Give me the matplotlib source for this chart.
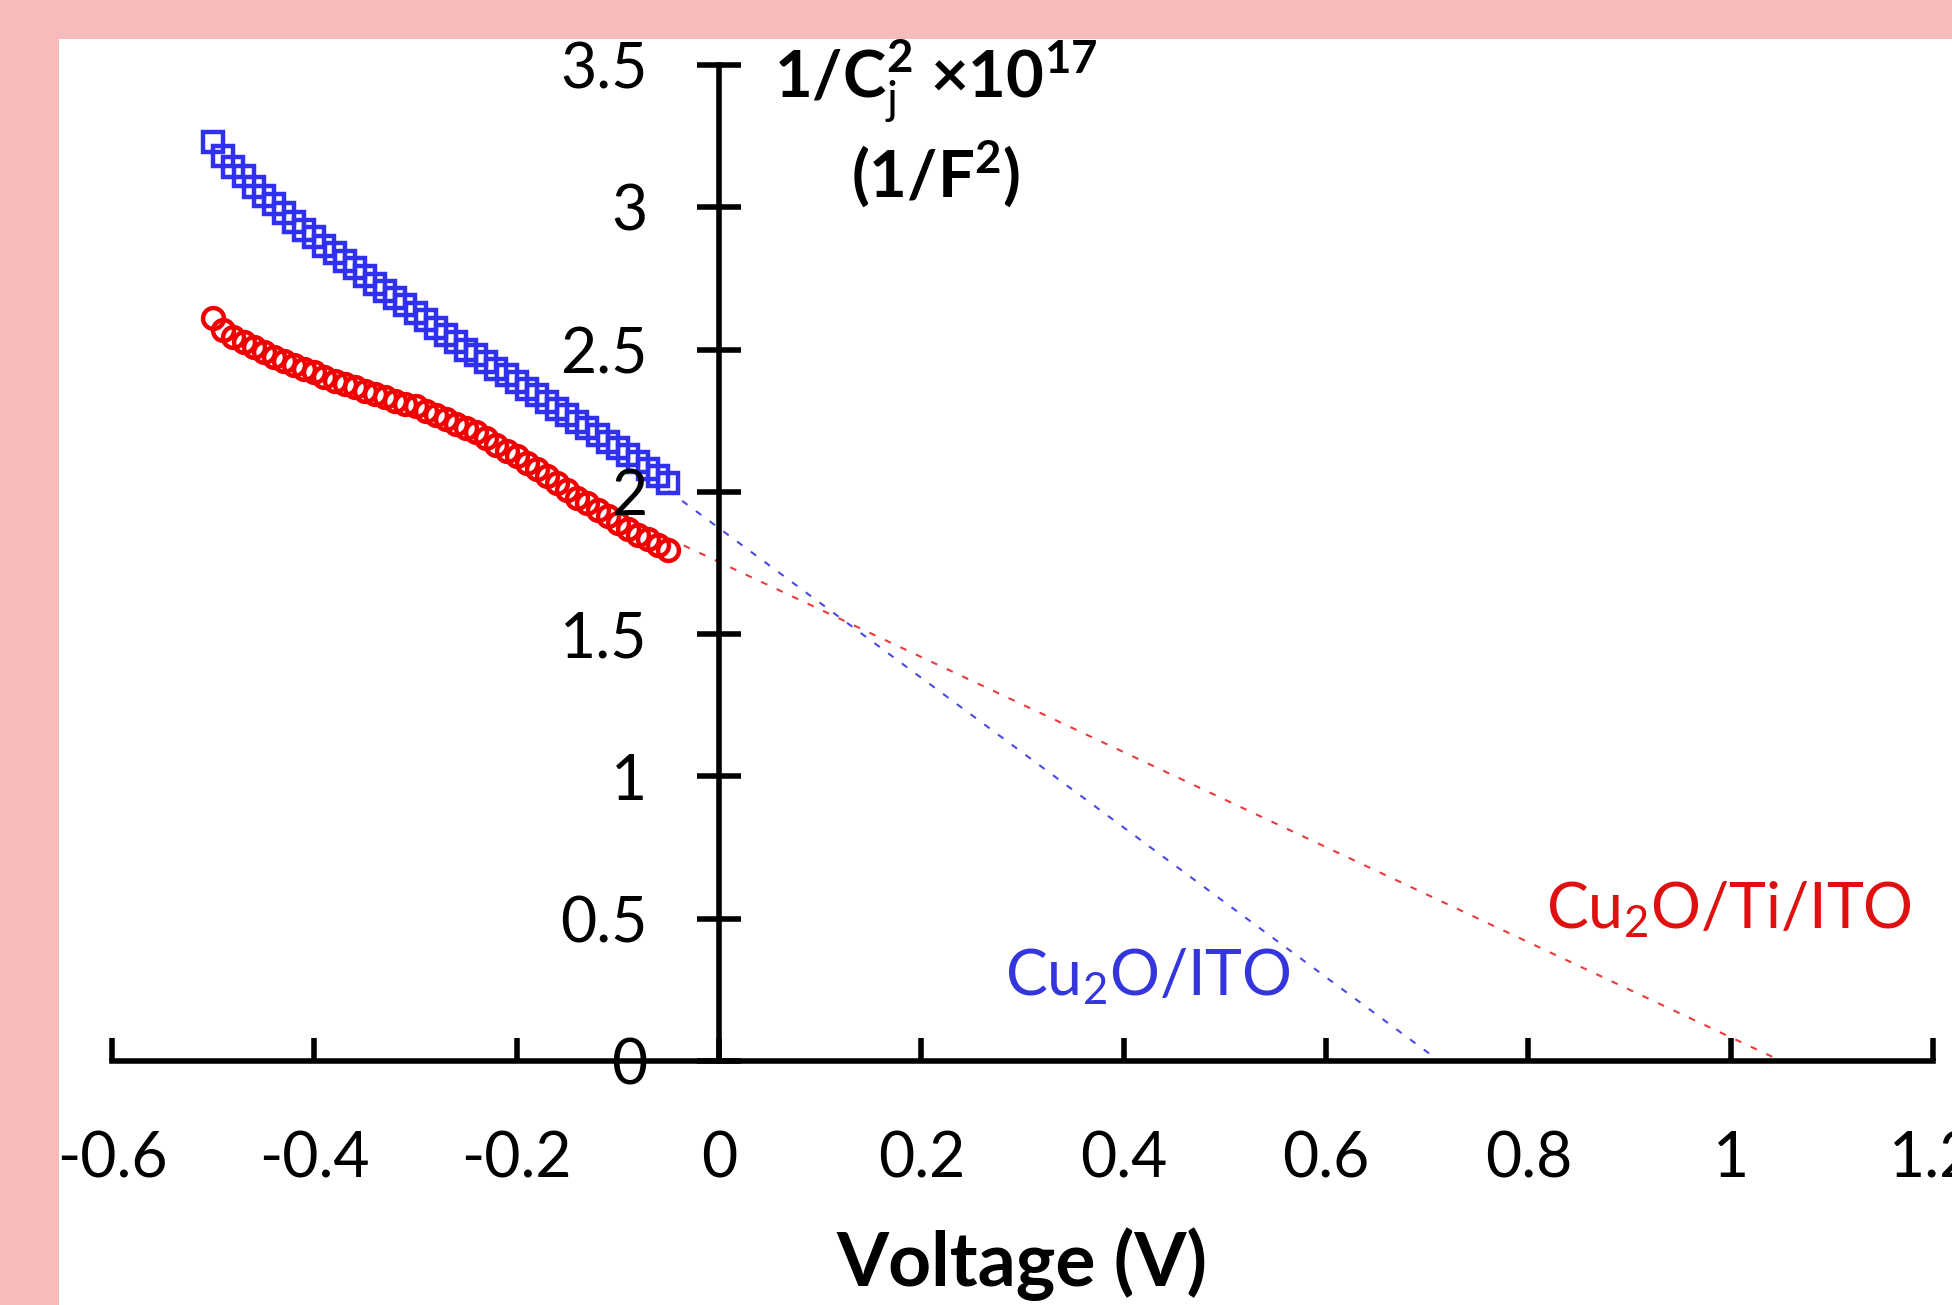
import matplotlib
matplotlib.use("Agg")
import matplotlib.pyplot as plt
from matplotlib.patches import Rectangle
import numpy as np

plt.rcParams['font.family'] = ['Lato', 'DejaVu Sans']
plt.rcParams['mathtext.fontset'] = 'custom'
plt.rcParams['mathtext.rm'] = 'Lato'
plt.rcParams['mathtext.it'] = 'Lato:italic'
plt.rcParams['mathtext.bf'] = 'Lato:bold'

# Mott-Schottky data (1/C^2 in units of 1e17 F^-2)
voltage = [-0.50, -0.49, -0.48, -0.47, -0.46, -0.45, -0.44, -0.43, -0.42, -0.41,
           -0.40, -0.39, -0.38, -0.37, -0.36, -0.35, -0.34, -0.33, -0.32, -0.31,
           -0.30, -0.29, -0.28, -0.27, -0.26, -0.25, -0.24, -0.23, -0.22, -0.21,
           -0.20, -0.19, -0.18, -0.17, -0.16, -0.15, -0.14, -0.13, -0.12, -0.11,
           -0.10, -0.09, -0.08, -0.07, -0.06, -0.05]

cu2o_ito = [3.23, 3.18, 3.14, 3.11, 3.07, 3.04, 3.01, 2.98, 2.95, 2.92,
            2.895, 2.865, 2.84, 2.81, 2.785, 2.76, 2.73, 2.705, 2.68, 2.655,
            2.63, 2.605, 2.575, 2.55, 2.525, 2.50, 2.48, 2.455, 2.43, 2.41,
            2.385, 2.36, 2.34, 2.315, 2.29, 2.27, 2.245, 2.225, 2.20, 2.175,
            2.155, 2.13, 2.105, 2.08, 2.055, 2.03]

cu2o_ti_ito = [2.61, 2.57, 2.545, 2.525, 2.51, 2.49, 2.475, 2.46, 2.445, 2.43,
               2.42, 2.405, 2.39, 2.38, 2.37, 2.355, 2.345, 2.335, 2.32, 2.31,
               2.30, 2.285, 2.27, 2.255, 2.24, 2.225, 2.21, 2.19, 2.165, 2.145,
               2.125, 2.10, 2.08, 2.055, 2.03, 2.005, 1.98, 1.96, 1.935, 1.915,
               1.89, 1.87, 1.85, 1.835, 1.815, 1.795]

# linear extrapolations: slope and x-intercept (flat-band potential)
fit_slope = {'ito': -2.63, 'ti': -1.67}
fit_x0 = {'ito': 0.712, 'ti': 1.05}
fit_start = -0.05

xticks = [-0.6, -0.4, -0.2, 0, 0.2, 0.4, 0.6, 0.8, 1.0, 1.2]
xtick_labels = ['-0.6', '-0.4', '-0.2', '0', '0.2', '0.4', '0.6', '0.8', '1', '1.2']
yticks = [0, 0.5, 1, 1.5, 2, 2.5, 3, 3.5]
ytick_labels = ['0', '0.5', '1', '1.5', '2', '2.5', '3', '3.5']

W, H = 1952, 1305
fig = plt.figure(figsize=(W / 100, H / 100), dpi=100, facecolor='#F8BBBB')
# white panel on the pink frame
fig.add_artist(Rectangle((59 / W, 0), 1 - 59 / W, 1 - 39 / H,
                         transform=fig.transFigure, facecolor='white',
                         edgecolor='none', zorder=-1))

ax = fig.add_axes([112 / W, (H - 1061) / H, (1933 - 112) / W, (1061 - 65) / H])
ax.set_facecolor('none')
ax.set_xlim(-0.6, 1.2)
ax.set_ylim(0, 3.5)

for key, col in [('ito', '#4A4AE0'), ('ti', '#E83C3C')]:
    xs = np.array([fit_start, fit_x0[key]])
    ys = fit_slope[key] * (xs - fit_x0[key])
    ax.plot(xs, ys, color=col, lw=1.5, dashes=(3.2, 5), zorder=1.8)

ax.plot(voltage, cu2o_ti_ito, 'o', ms=15, mfc='none', mec='#F00000', mew=3.2, zorder=2)
ax.plot(voltage, cu2o_ito, 's', ms=14, mfc='none', mec='#3030F0', mew=3.2, zorder=2.1)

# axes cross at the origin
for side in ['top', 'right']:
    ax.spines[side].set_visible(False)
ax.spines['left'].set_position(('data', 0))
ax.spines['bottom'].set_position(('data', 0))
for side in ['left', 'bottom']:
    ax.spines[side].set_linewidth(4)
ax.set_axisbelow(False)

ax.set_xticks(xticks, xtick_labels)
ax.set_yticks(yticks, ytick_labels)
ax.tick_params(axis='x', direction='in', length=16.5, width=4, pad=50, labelsize=45)
ax.tick_params(axis='y', direction='inout', length=31, width=4, pad=36, labelsize=45)

ax.text(0.283, 0.232, 'Cu$_2$O/ITO', color='#3535DD', fontsize=45,
        ha='left', va='baseline')
ax.text(0.817, 0.467, 'Cu$_2$O/Ti/ITO', color='#E01010', fontsize=45,
        ha='left', va='baseline')

fig.text(936 / W, 1 - 81 / H, r'1/C$_{\mathrm{j}}^{\mathbf{2}}$ ×10$^{\mathbf{17}}$',
         fontsize=47, fontweight='bold', ha='center', va='center')
fig.text(936 / W, 1 - 174 / H, r'(1/F$^{\mathbf{2}}$)',
         fontsize=47, fontweight='bold', ha='center', va='center')
fig.text(1022 / W, 1 - 1264 / H, 'Voltage (V)', fontsize=54, fontweight='bold',
         ha='center', va='center')

fig.savefig('out.png', dpi=100, facecolor=fig.get_facecolor())
